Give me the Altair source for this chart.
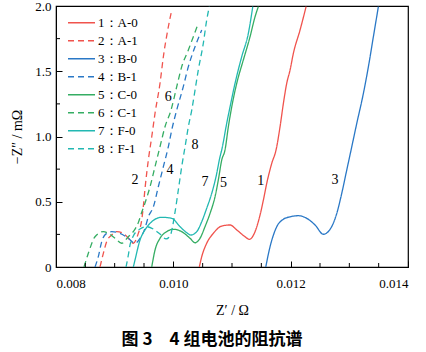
import altair as alt
import pandas as pd

# ---------------- data ----------------
series = ["1：A-0", "2：A-1", "3：B-0", "4：B-1", "5：C-0", "6：C-1", "7：F-0", "8：F-1"]
colors = ["#f0534d", "#f0534d", "#2a78c6", "#2a78c6", "#35ad63", "#35ad63", "#22b8b2", "#22b8b2"]
dashes = [[1, 0], [6, 4], [1, 0], [6, 4], [1, 0], [6, 4], [1, 0], [6, 4]]

a0_x = [0.010443, 0.010484, 0.010569, 0.010682, 0.010825, 0.010967, 0.011081, 0.011222, 0.011296,
        0.011393, 0.011478, 0.011535, 0.011592, 0.011678, 0.011751, 0.011819, 0.011876, 0.011933,
        0.01199, 0.012046, 0.01216, 0.012263]
a0_y = [0, 0.079, 0.182, 0.258, 0.314, 0.322, 0.284, 0.232, 0.212, 0.271, 0.398, 0.513, 0.641,
        0.795, 0.897, 1.075, 1.254, 1.408, 1.510, 1.637, 1.816, 1.995]

a1_x = [0.00875, 0.008807, 0.008864, 0.00895, 0.009035, 0.009147, 0.009262, 0.009318, 0.009403,
        0.009461, 0.009488, 0.009517, 0.009574, 0.009632, 0.009688, 0.009773, 0.00983, 0.009915,
        0.009973]
a1_y = [0, 0.105, 0.194, 0.245, 0.271, 0.258, 0.207, 0.182, 0.258, 0.360, 0.462, 0.600, 0.820,
        0.998, 1.178, 1.408, 1.611, 1.841, 1.969]

b0_x = [0.011575, 0.011649, 0.011763, 0.011876, 0.01199, 0.012131, 0.012274, 0.012416, 0.012558,
        0.012672, 0.012786, 0.012871, 0.012956, 0.01303, 0.013127, 0.01324, 0.013325, 0.01341,
        0.013495]
b0_y = [0, 0.156, 0.309, 0.366, 0.385, 0.393, 0.373, 0.322, 0.251, 0.289, 0.411, 0.565, 0.743,
        0.897, 1.101, 1.331, 1.535, 1.765, 1.995]

b1_x = [0.008665, 0.008721, 0.008779, 0.008864, 0.00895, 0.009091, 0.009233, 0.009347, 0.009432,
        0.009517, 0.009574, 0.009659, 0.009744, 0.00983, 0.009915, 0.009973, 0.010058, 0.01017,
        0.010256, 0.01037, 0.010484]
b1_y = [0, 0.079, 0.194, 0.258, 0.271, 0.258, 0.220, 0.182, 0.220, 0.297, 0.385, 0.46, 0.615,
        0.769, 0.922, 1.050, 1.203, 1.382, 1.535, 1.688, 1.816]

c0_x = [0.009632, 0.009688, 0.009773, 0.009887, 0.01, 0.010143, 0.010285, 0.01037, 0.010455,
        0.01054, 0.010626, 0.010711, 0.010767, 0.010825, 0.010881, 0.010938, 0.010996, 0.011081,
        0.011193, 0.011308, 0.011393, 0.011449]
c0_y = [0, 0.130, 0.220, 0.271, 0.289, 0.271, 0.220, 0.186, 0.220, 0.309, 0.411, 0.539, 0.667,
        0.820, 0.897, 1.075, 1.228, 1.408, 1.586, 1.765, 1.918, 1.995]

c1_x = [0.008477, 0.008551, 0.008665, 0.008807, 0.008892, 0.009006, 0.00912, 0.009233, 0.009347,
        0.009403, 0.009461, 0.009517, 0.009603, 0.009688, 0.009773, 0.009858, 0.009961, 0.010058,
        0.010143, 0.010256, 0.010341, 0.010426]
c1_y = [0, 0.105, 0.232, 0.271, 0.258, 0.220, 0.182, 0.232, 0.29, 0.34, 0.42, 0.49, 0.615, 0.769,
        0.922, 1.075, 1.203, 1.382, 1.535, 1.663, 1.765, 1.867]

f0_x = [0.009318, 0.009347, 0.009432, 0.009517, 0.009632, 0.009802, 0.009973, 0.010114, 0.010228,
        0.010297, 0.010399, 0.010484, 0.010569, 0.010655, 0.010728, 0.010796, 0.010825, 0.01091,
        0.010979, 0.011052, 0.011166, 0.011279, 0.011354]
f0_y = [0, 0.054, 0.207, 0.284, 0.347, 0.381, 0.373, 0.309, 0.263, 0.245, 0.271, 0.347, 0.450,
        0.565, 0.692, 0.845, 0.897, 1.101, 1.254, 1.408, 1.612, 1.791, 1.995]

f1_x = [0.009194, 0.009233, 0.009262, 0.009318, 0.009432, 0.009546, 0.009659, 0.009773, 0.009876,
        0.009944, 0.010029, 0.010085, 0.010143, 0.0102, 0.010256, 0.010314, 0.01037, 0.010426,
        0.010511, 0.010569, 0.010614]
f1_y = [0, 0.092, 0.169, 0.238, 0.291, 0.309, 0.291, 0.253, 0.215, 0.238, 0.421, 0.59, 0.769,
        0.922, 1.075, 1.203, 1.356, 1.510, 1.714, 1.893, 1.995]

# curve number annotations
lab_text = ["1", "2", "3", "4", "5", "6", "7", "8"]
lab_x = [0.01149, 0.009347, 0.012757, 0.009944, 0.010853, 0.009915, 0.01054, 0.01037]
lab_y = [0.661, 0.663, 0.667, 0.743, 0.641, 1.305, 0.654, 0.935]

# axis ticks
x_major = [0.008, 0.010, 0.012, 0.014]
x_minor = [0.0085, 0.009, 0.0095, 0.0105, 0.011, 0.0115, 0.0125, 0.013, 0.0135]
y_major = [0, 0.5, 1.0, 1.5, 2.0]
y_minor = [0.25, 0.75, 1.25, 1.75]

# ---------------- build table ----------------
xs = [a0_x, a1_x, b0_x, b1_x, c0_x, c1_x, f0_x, f1_x]
ys = [a0_y, a1_y, b0_y, b1_y, c0_y, c1_y, f0_y, f1_y]
rows = []
for s, xx, yy in zip(series, xs, ys):
    for i, (a, b) in enumerate(zip(xx, yy)):
        rows.append({"series": s, "x": a, "y": b, "i": i})
df = pd.DataFrame(rows)
labels_df = pd.DataFrame({"t": lab_text, "x": lab_x, "y": lab_y})
xminor_df = pd.DataFrame({"x": x_minor})
yminor_df = pd.DataFrame({"y": y_minor})
legend_df = pd.DataFrame({"series": series, "k": list(range(len(series)))})

W, H = 352, 261
SERIF = "'Liberation Serif', 'Times New Roman', serif"

xscale = alt.Scale(domain=[0.008, 0.014], nice=False, zero=False)
yscale = alt.Scale(domain=[0, 2.0], nice=False, zero=False)
cscale = alt.Scale(domain=series, range=colors)
dscale = alt.Scale(domain=series, range=dashes)

xaxis = alt.Axis(values=x_major, format=".3f", title="Z′ / Ω", grid=False,
                 tickSize={"expr": "-6"}, tickColor="black", domainColor="black",
                 labelFont=SERIF, labelFontSize=13, labelColor="black", labelPadding=16,
                 titleFont=SERIF, titleFontSize=14, titleFontWeight="normal", titleColor="black",
                 titlePadding=13)
yaxis = alt.Axis(values=y_major, labelExpr="datum.value == 0 ? '0' : format(datum.value, '.1f')",
                 title="−Z″ / mΩ", grid=False,
                 tickSize={"expr": "-6"}, tickColor="black", domainColor="black",
                 labelFont=SERIF, labelFontSize=13, labelColor="black", labelPadding=11,
                 titleFont=SERIF, titleFontSize=14, titleFontWeight="normal", titleColor="black",
                 titlePadding=10)

lines = alt.Chart(df).mark_line(strokeWidth=1.3, clip=True, interpolate="monotone").encode(
    x=alt.X("x:Q", scale=xscale, axis=xaxis),
    y=alt.Y("y:Q", scale=yscale, axis=yaxis),
    color=alt.Color("series:N", scale=cscale, legend=None),
    strokeDash=alt.StrokeDash("series:N", scale=dscale, legend=None),
    order="i:Q",
    detail="series:N",
)

texts = alt.Chart(labels_df).mark_text(font=SERIF, fontSize=14, color="black").encode(
    x=alt.X("x:Q", scale=xscale), y=alt.Y("y:Q", scale=yscale), text="t:N")

xminor = alt.Chart(xminor_df).mark_rule(color="black", strokeWidth=1).encode(
    x=alt.X("x:Q", scale=xscale), y=alt.value(H), y2=alt.value(H - 4))
yminor = alt.Chart(yminor_df).mark_rule(color="black", strokeWidth=1).encode(
    y=alt.Y("y:Q", scale=yscale), x=alt.value(0), x2=alt.value(4))

# hand-made legend (top-left, inside the frame)
leg_base = alt.Chart(legend_df).transform_calculate(ly="16.7 + 18 * datum.k")
leg_sym = leg_base.mark_rule(strokeWidth=1.5).encode(
    x=alt.value(12), x2=alt.value(39),
    y=alt.Y("ly:Q", scale=None),
    color=alt.Color("series:N", scale=cscale, legend=None),
    strokeDash=alt.StrokeDash("series:N", scale=dscale, legend=None),
)
leg_txt = leg_base.mark_text(font=SERIF, fontSize=13, color="black", align="left",
                             baseline="middle").encode(
    x=alt.value(42), y=alt.Y("ly:Q", scale=None), text="series:N")

chart = alt.layer(lines, texts, xminor, yminor, leg_sym, leg_txt).properties(
    width=W, height=H,
    autosize=alt.AutoSizeParams(type="none"),
    padding={"left": 56, "top": 6, "right": 18, "bottom": 85},
    title=alt.TitleParams(text="图 3　4 组电池的阻抗谱", orient="bottom", anchor="middle",
                          font="Noto Sans CJK SC", fontSize=17, fontWeight="bold",
                          color="black", offset=15, dx=-20),
    background="white",
).configure_view(stroke="black", strokeWidth=1.2)

chart.save("out.html", embed_options={"renderer": "svg", "actions": False})
